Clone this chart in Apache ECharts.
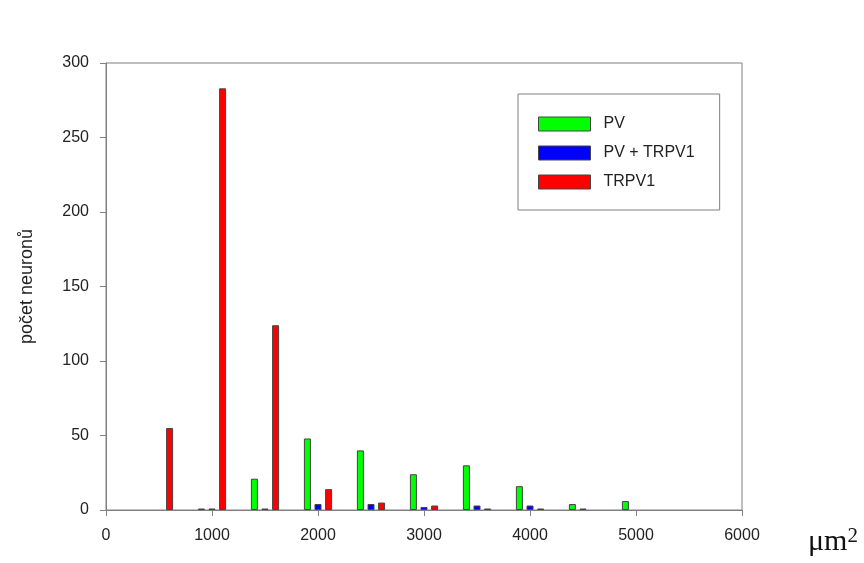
<!DOCTYPE html>
<html>
<head>
<meta charset="utf-8">
<script src="https://cdn.jsdelivr.net/npm/echarts@6/dist/echarts.min.js"></script>
<style>html,body{margin:0;padding:0;background:#fff}#c{width:864px;height:563px}</style>
</head>
<body>
<div id="c"></div>
<script>
var xTicks = [0, 1000, 2000, 3000, 4000, 5000, 6000];
var yTicks = [0, 50, 100, 150, 200, 250, 300];
var seriesNames = ['PV', 'PV + TRPV1', 'TRPV1'];
var pvX = [900, 1400, 1900, 2400, 2900, 3400, 3900, 4400, 4900];
var pvY = [1, 21, 48, 40, 24, 30, 16, 4, 6];
var bothX = [1000, 1500, 2000, 2500, 3000, 3500, 4000, 4500];
var bothY = [1, 1, 4, 4, 2, 3, 3, 1];
var trpvX = [600, 1100, 1600, 2100, 2600, 3100, 3600, 4100];
var trpvY = [55, 283, 124, 14, 5, 3, 1, 1];
var colors = ['#00ff00', '#0000ff', '#ff0000'];

function pairs(xs, ys) { return xs.map(function (x, i) { return [x, ys[i]]; }); }
var dataSets = [pairs(pvX, pvY), pairs(bothX, bothY), pairs(trpvX, trpvY)];

var chart = echarts.init(document.getElementById('c'));
var font = 'Liberation Sans, Arial, sans-serif';
var serif = 'Liberation Serif, Times New Roman, serif';
chart.setOption({
  animation: false,
  backgroundColor: '#ffffff',
  grid: { left: 106, right: 122, top: 63, bottom: 53, show: true, borderColor: '#808080', borderWidth: 1, backgroundColor: 'transparent' },
  legend: {
    orient: 'vertical', left: 518, top: 94,
    data: seriesNames,
    itemWidth: 52, itemHeight: 14, itemGap: 13,
    padding: [22, 25, 20, 20],
    borderColor: '#808080', borderWidth: 1,
    icon: 'rect',
    textStyle: { fontFamily: font, fontSize: 16, color: '#222', padding: [0, 0, 0, 8] },
    itemStyle: { borderColor: '#444', borderWidth: 1 }
  },
  xAxis: {
    type: 'value', min: xTicks[0], max: xTicks[xTicks.length - 1], interval: 1000,
    splitLine: { show: false },
    axisLine: { show: true, lineStyle: { color: '#808080' } },
    axisTick: { show: true, length: 6, lineStyle: { color: '#808080' } },
    axisLabel: { fontFamily: font, fontSize: 16, color: '#222', margin: 18, formatter: function (v) { return String(v); } },
    name: 'μm{s|2}', nameLocation: 'end', nameGap: 0,
    nameTextStyle: {
      fontFamily: serif, fontSize: 30, color: '#111',
      verticalAlign: 'top', align: 'left', padding: [16, 0, 0, 66],
      rich: { s: { fontFamily: serif, fontSize: 21, verticalAlign: 'top', padding: [0, 0, 12, 0] } }
    }
  },
  yAxis: {
    type: 'value', min: yTicks[0], max: yTicks[yTicks.length - 1], interval: 50,
    splitLine: { show: false },
    axisLine: { show: true, lineStyle: { color: '#808080' } },
    axisTick: { show: true, length: 6, lineStyle: { color: '#808080' } },
    axisLabel: { fontFamily: font, fontSize: 16, color: '#222', margin: 17 },
    name: 'počet neuronů', nameLocation: 'middle', nameGap: 70, nameRotate: 90,
    nameTextStyle: { fontFamily: font, fontSize: 18, color: '#222' }
  },
  series: seriesNames.map(function (n, i) {
    return {
      name: n, type: 'bar', data: dataSets[i], barWidth: 7, barGap: '-100%',
      itemStyle: { color: colors[i], borderColor: '#444', borderWidth: 1 }
    };
  })
});
</script>
</body>
</html>
